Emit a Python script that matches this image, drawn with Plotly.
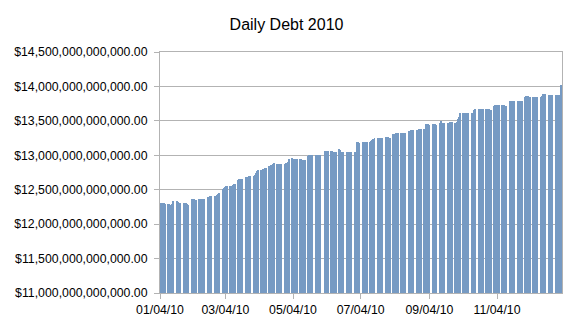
import pandas as pd
import plotly.graph_objects as go

# Debt values in trillions of dollars, one per business day, by month
jan = [12.31, 12.30, 12.31, 12.30, 12.29,
       12.29, 12.29, 12.28, 12.29, 12.33,
       12.33, 12.32, 12.31, 12.30,
       12.31, 12.31, 12.30, 12.29, 12.28]
feb = [12.37, 12.37, 12.36, 12.35, 12.35,
       12.36, 12.36, 12.36, 12.36, 12.36,
       12.39, 12.40, 12.41, 12.41,
       12.41, 12.41, 12.43, 12.44, 12.45]
mar = [12.51, 12.53, 12.54, 12.55, 12.56,
       12.55, 12.56, 12.57, 12.58, 12.58,
       12.64, 12.65, 12.66, 12.66, 12.66,
       12.68, 12.69, 12.69, 12.70, 12.70,
       12.70, 12.71, 12.74]
apr = [12.77, 12.78,
       12.79, 12.80, 12.80, 12.81, 12.81,
       12.84, 12.85, 12.86, 12.88, 12.89,
       12.87, 12.88, 12.88, 12.88, 12.88,
       12.88, 12.89, 12.89, 12.90, 12.95]
may = [12.96, 12.95, 12.95, 12.95, 12.95,
       12.94, 12.94, 12.93, 12.93, 12.93,
       12.99, 13.00, 13.00, 13.01, 13.01,
       13.01, 13.01, 13.01, 13.01, 13.01]
jun = [13.06, 13.06, 13.06, 13.06,
       13.06, 13.06, 13.05, 13.05, 13.05,
       13.09, 13.07, 13.05, 13.05, 13.05,
       13.05, 13.05, 13.05, 13.05, 13.05,
       13.05, 13.05, 13.20]
jul = [13.19, 13.18,
       13.19, 13.19, 13.19, 13.19,
       13.20, 13.21, 13.22, 13.24, 13.25,
       13.25, 13.25, 13.25, 13.25, 13.25,
       13.26, 13.26, 13.26, 13.25, 13.25]
aug = [13.31, 13.31, 13.32, 13.32, 13.32,
       13.32, 13.32, 13.32, 13.32, 13.32,
       13.36, 13.36, 13.37, 13.37, 13.37,
       13.37, 13.37, 13.38, 13.38, 13.38,
       13.38, 13.45]
sep = [13.45, 13.45, 13.44,
       13.45, 13.45, 13.45, 13.44,
       13.47, 13.50, 13.47, 13.47, 13.47,
       13.47, 13.47, 13.48, 13.48, 13.48,
       13.47, 13.48, 13.53, 13.56]
oct_ = [13.61,
        13.62, 13.62, 13.62, 13.62, 13.62,
        13.61, 13.61, 13.66, 13.67,
        13.67, 13.67, 13.67, 13.67, 13.67,
        13.67, 13.67, 13.67, 13.66, 13.66]
nov = [13.72, 13.73, 13.73, 13.73, 13.73,
       13.73, 13.73, 13.73, 13.72,
       13.79, 13.79, 13.79, 13.79, 13.79,
       13.79, 13.79, 13.79, 13.79,
       13.85, 13.86]
dec = [13.86, 13.86, 13.85,
       13.84, 13.84, 13.85, 13.85, 13.85,
       13.85, 13.86, 13.89, 13.89, 13.89,
       13.88, 13.88, 13.88, 13.88,
       13.88, 13.88, 13.88, 13.88, 14.02]

holidays = ["2010-01-18", "2010-02-15", "2010-05-31", "2010-07-05",
            "2010-09-06", "2010-10-11", "2010-11-11", "2010-11-25",
            "2010-12-24"]

y_ticks = [11.0, 11.5, 12.0, 12.5, 13.0, 13.5, 14.0, 14.5]

days = pd.bdate_range("2010-01-04", "2010-12-31")
days = [d for d in days if d.strftime("%Y-%m-%d") not in holidays]
values = jan + feb + mar + apr + may + jun + jul + aug + sep + oct_ + nov + dec
assert len(days) == len(values), (len(days), len(values))
debt = [v * 1e12 for v in values]

DAY_MS = 86400000

fig = go.Figure()
fig.add_trace(go.Bar(
    x=days, y=debt,
    width=DAY_MS * 0.8, offset=DAY_MS * 0.05,
    marker=dict(color="#769ac3", line=dict(width=0)),
))

grid = "#b3b3b3"
fig.update_layout(
    width=573, height=322,
    margin=dict(l=160, r=11, t=52, b=29, autoexpand=False),
    paper_bgcolor="white", plot_bgcolor="white",
    font=dict(family="Liberation Sans, Arial, sans-serif", size=12, color="#000000"),
    title=dict(text="Daily Debt 2010", x=0.5, xanchor="center", y=0.925, yanchor="middle",
               font=dict(size=16, color="#000000")),
    showlegend=False,
    bargap=0,
)
fig.update_xaxes(
    type="date", automargin=False,
    range=["2010-01-04", "2011-01-01 15:00"],
    tick0="2010-01-04", dtick="M2", tickformat="%m/%d/%y",
    showgrid=False, showline=True, linecolor=grid, linewidth=1, mirror=True,
    ticks="outside", ticklen=5, tickcolor=grid,
    tickfont=dict(size=12.3),
)
fig.update_yaxes(
    automargin=False,
    range=[11e12, 14.5e12],
    tickvals=[t * 1e12 for t in y_ticks],
    tickformat="$,.2f",
    showgrid=True, gridcolor=grid, gridwidth=1,
    showline=True, linecolor=grid, linewidth=1, mirror=True,
    ticks="outside", ticklen=5, tickcolor=grid, ticklabelstandoff=4,
    tickfont=dict(size=12.3),
    zeroline=False,
)

fig.write_html("out.html")
